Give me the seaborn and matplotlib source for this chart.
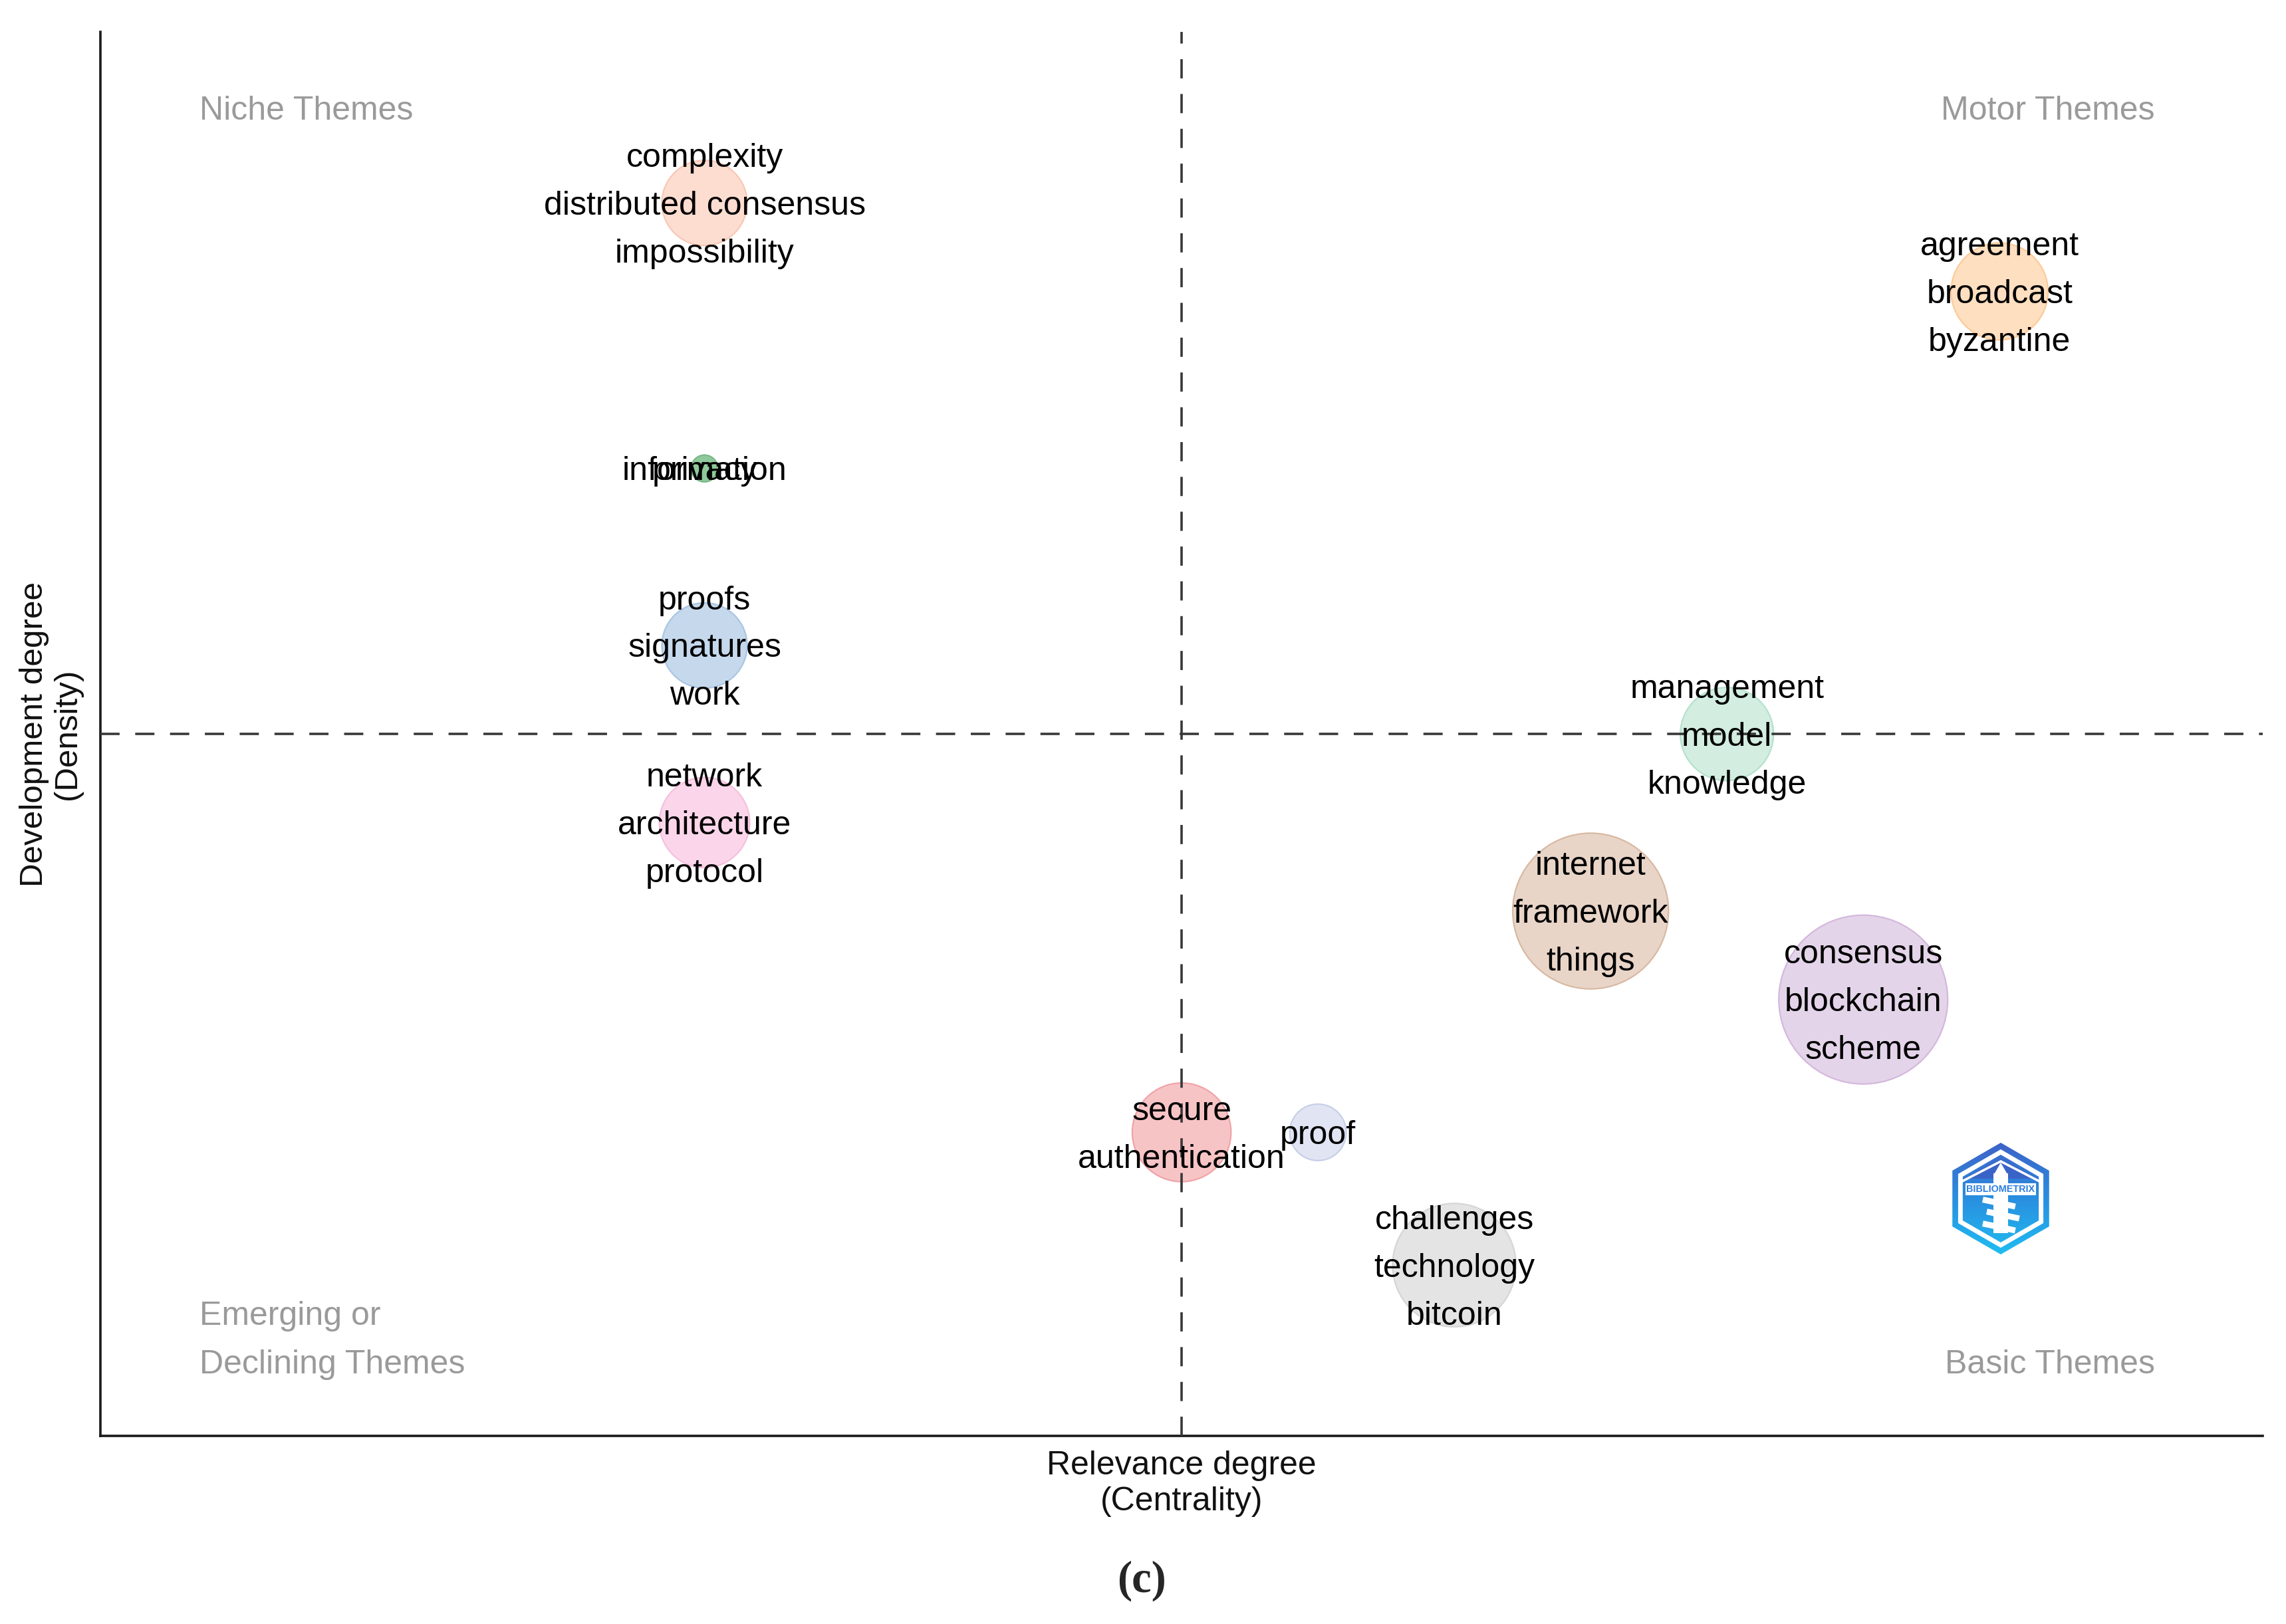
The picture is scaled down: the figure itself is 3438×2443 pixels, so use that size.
import numpy as np
import pandas as pd
import matplotlib
matplotlib.use("Agg")
import matplotlib.pyplot as plt
import seaborn as sns
from matplotlib.patches import RegularPolygon, Rectangle, Polygon
from matplotlib.colors import LinearSegmentedColormap

# ---------------- data ----------------
clusters = ["complexity", "information", "privacy", "proofs", "network",
            "agreement", "management", "internet", "consensus",
            "secure", "proof", "challenges"]
label_words = [
    ["complexity", "distributed consensus", "impossibility"],
    ["information"],
    ["privacy"],
    ["proofs", "signatures", "work"],
    ["network", "architecture", "protocol"],
    ["agreement", "broadcast", "byzantine"],
    ["management", "model", "knowledge"],
    ["internet", "framework", "things"],
    ["consensus", "blockchain", "scheme"],
    ["secure", "authentication"],
    ["proof"],
    ["challenges", "technology", "bitcoin"],
]
centrality_rank = [3.5, 3.5, 3.5, 3.5, 3.5, 13, 11, 10, 12, 7, 8, 9]
density_rank = [13, 10, 10, 8, 6, 12, 7, 5, 4, 2.5, 2.5, 1]
frequency = [41, 4, 4, 41, 46, 53, 49, 137, 161, 55, 18, 86]
centrality_mean = 7.0
density_mean = 7.0
quadrant_names = ["Niche Themes", "Motor Themes",
                  "Emerging or\nDeclining Themes", "Basic Themes"]
x_title = "Relevance degree\n(Centrality)"
y_title = "Development degree\n(Density)"
panel_tag = "(c)"

# ---------------- style ----------------
fill_colors = {
    "complexity": "#FDDDD0", "information": "#8FC99B", "privacy": "#8FC99B",
    "proofs": "#C6D9EC", "network": "#FBD6EA", "agreement": "#FEDFC0",
    "management": "#D3EEE0", "internet": "#E8D5C8", "consensus": "#E4D4E9",
    "secure": "#F7C4C6", "proof": "#E1E5F3", "challenges": "#E4E4E4",
}
edge_colors = {
    "complexity": "#F9C8B6", "information": "#7DBB8A", "privacy": "#7DBB8A",
    "proofs": "#AAC6E2", "network": "#F6C0DE", "agreement": "#FCCB98",
    "management": "#B5E1CC", "internet": "#D8B9A3", "consensus": "#D4B8DD",
    "secure": "#F0A4A7", "proof": "#C8CFE8", "challenges": "#D6D6D6",
}

sns.set_style("white")
plt.rcParams["font.family"] = ["Liberation Sans", "DejaVu Sans"]

W, H, DPI = 3438, 2443, 200
fig = plt.figure(figsize=(W / DPI, H / DPI), dpi=DPI)
ax = fig.add_axes([69 / 1568, 1 - 985 / 1114, (1552 - 69) / 1568, (985 - 22) / 1114])

df = pd.DataFrame({"cluster": clusters, "centrality": centrality_rank,
                   "density": density_rank, "freq": frequency})

fmax = max(frequency)
smax = (0.72 * 127) ** 2
sns.scatterplot(data=df, x="centrality", y="density", hue="cluster",
                palette=fill_colors, size="freq", sizes=(0, smax),
                size_norm=(0, fmax), legend=False, ax=ax,
                edgecolor=[edge_colors[c] for c in clusters], linewidth=0.8,
                zorder=2)

ax.set_xlim(-0.93, 14.93)
ax.set_ylim(-0.93, 14.93)

lw_d = 1.3
ax.axvline(centrality_mean, color="#383838", lw=lw_d, dashes=(8, 6.5), zorder=3)
ax.axhline(density_mean, color="#383838", lw=lw_d, dashes=(8, 6.5), zorder=3)

line_pt = 25.9
shift_pt = -1.6
for c, words, xv, yv in zip(clusters, label_words, centrality_rank, density_rank):
    n = len(words)
    for i, w in enumerate(words):
        ax.annotate(w, (xv, yv), xytext=(0, ((n - 1) / 2 - i) * line_pt + shift_pt),
                    textcoords="offset points", ha="center", va="center",
                    fontsize=18, color="black", zorder=4)

qcol = "#9A9A9A"
qx_left = (137 - 69) / 1483
qx_right = (1478 - 69) / 1483
qy_top = (985 - 76) / 963
ax.text(qx_left, qy_top, quadrant_names[0], transform=ax.transAxes,
        ha="left", va="center", fontsize=18, color=qcol)
ax.text(qx_right, qy_top, quadrant_names[1], transform=ax.transAxes,
        ha="right", va="center", fontsize=18, color=qcol)
em_lines = quadrant_names[2].split("\n")
for i, t in enumerate(em_lines):
    yy = (985 - (903 + 33 * i)) / 963
    ax.text(qx_left, yy, t, transform=ax.transAxes, ha="left", va="center",
            fontsize=18, color=qcol)
ax.text(qx_right, (985 - 936) / 963, quadrant_names[3], transform=ax.transAxes,
        ha="right", va="center", fontsize=18, color=qcol)

ax.set_xlabel(x_title, fontsize=18, linespacing=1.2, labelpad=8, color="#111111")
ax.set_ylabel(y_title, fontsize=17.8, linespacing=1.12, labelpad=10, color="#111111")
ax.set_xticks([])
ax.set_yticks([])
for s in ["top", "right"]:
    ax.spines[s].set_visible(False)
for s in ["left", "bottom"]:
    ax.spines[s].set_color("#1a1a1a")
    ax.spines[s].set_linewidth(1.3)

# panel tag
fig.text(1717 / W, 1 - 2378 / H, panel_tag, ha="center", va="center",
         fontsize=24, fontweight="bold", family=["Liberation Serif", "DejaVu Serif"])

# watermark logo (hexagon badge)
cx, cy, box = 3009, 1803, 190
lax = fig.add_axes([(cx - box / 2) / W, 1 - (cy + box / 2) / H, box / W, box / H])
lax.set_xlim(-95, 95)
lax.set_ylim(-95, 95)
lax.set_aspect("equal")
lax.axis("off")
grad = np.linspace(0, 1, 256).reshape(-1, 1)
cmap = LinearSegmentedColormap.from_list("logo", ["#1FC0F2", "#2A8FE0", "#3F5FC6"])
outer = RegularPolygon((0, 0), 6, radius=84, orientation=0, transform=lax.transData)
im = lax.imshow(grad, extent=(-90, 90, -90, 90), origin="lower", cmap=cmap,
                aspect="auto", zorder=1)
im.set_clip_path(outer)
lax.add_patch(RegularPolygon((0, 0), 6, radius=74, orientation=0, fc="white",
                             ec="none", zorder=2))
inner = RegularPolygon((0, 0), 6, radius=66, orientation=0, transform=lax.transData)
im2 = lax.imshow(grad, extent=(-90, 90, -90, 90), origin="lower", cmap=cmap,
                 aspect="auto", zorder=3)
im2.set_clip_path(inner)
lax.add_patch(Polygon([[-56, 30], [0, 60], [56, 30]], closed=True, fc="#3A63C8",
                      ec="none", zorder=4))
lax.add_patch(Polygon([[-58, 28], [0, 58], [58, 28], [58, 24], [0, 54], [-58, 24]],
                      closed=True, fc="white", ec="none", zorder=5))
lax.add_patch(Rectangle((-11, -52), 22, 90, fc="white", ec="none", zorder=5))
lax.add_patch(RegularPolygon((0, 42), 3, radius=12, orientation=0, fc="white",
                             ec="none", zorder=5))
for k, yy in enumerate([-6, -24, -42]):
    lax.add_patch(Rectangle((-28 + 6 * (k % 2), yy), 50, 9, fc="white", ec="none",
                            angle=-12, zorder=5))
lax.text(0, 14, "BIBLIOMETRIX", ha="center", va="center", fontsize=5.2,
         fontweight="bold", color="#2B7FE0", zorder=6,
         bbox=dict(fc="white", ec="none", pad=0.6))

fig.savefig("out.png", dpi=DPI, facecolor="white")
